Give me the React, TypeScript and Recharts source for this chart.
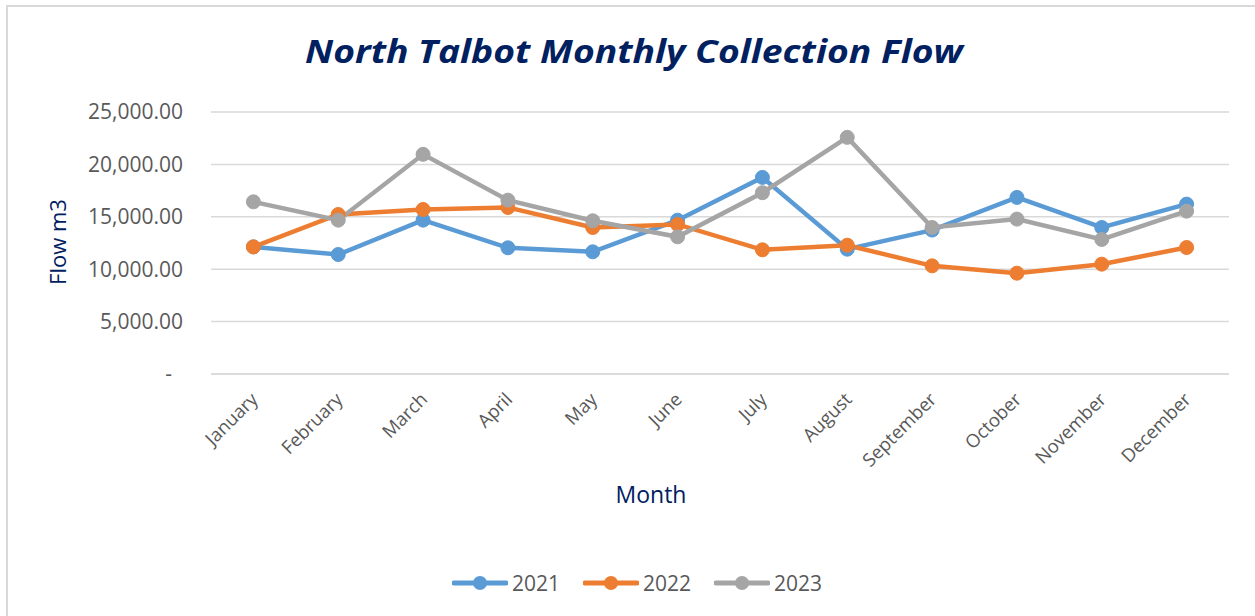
import { CartesianGrid, Legend, Line, LineChart, XAxis, YAxis } from 'recharts';

const months = [
  'January', 'February', 'March', 'April', 'May', 'June',
  'July', 'August', 'September', 'October', 'November', 'December',
];
const flow2021 = [12130, 11400, 14680, 12040, 11660, 14680, 18760, 11910, 13730, 16850, 13980, 16210];
const flow2022 = [12130, 15220, 15700, 15890, 13980, 14270, 11850, 12290, 10320, 9620, 10480, 12070];
const flow2023 = [16430, 14680, 20960, 16590, 14620, 13090, 17300, 22580, 13980, 14780, 12840, 15540];
const yTicks = [0, 5000, 10000, 15000, 20000, 25000];

const series = [
  { key: 'y2021', name: '2021', color: '#5b9bd5' },
  { key: 'y2022', name: '2022', color: '#ed7d31' },
  { key: 'y2023', name: '2023', color: '#a5a5a5' },
];

const data = months.map((month, i) => ({
  month,
  y2021: flow2021[i],
  y2022: flow2022[i],
  y2023: flow2023[i],
}));

const FONT = '"Open Sans", sans-serif';
const NAVY = '#002060';
const TICK = '#595959';

const fmt = (v: number) =>
  v.toLocaleString('en-US', { minimumFractionDigits: 2, maximumFractionDigits: 2 });

function YTick({ x, y, payload }: any) {
  const zero = payload.value === 0;
  return (
    <text
      x={x}
      y={y}
      dx={zero ? -11 : 0}
      dy="0.35em"
      textAnchor="end"
      fill={TICK}
      fontSize={21}
      fontFamily={FONT}
    >
      {zero ? '-' : fmt(payload.value)}
    </text>
  );
}

function XTick({ x, y, payload }: any) {
  const tx = x + 1;
  const ty = y + 22;
  return (
    <text
      x={tx}
      y={ty}
      dy="0.35em"
      textAnchor="end"
      transform={`rotate(-45 ${tx} ${ty})`}
      fill={TICK}
      fontSize={18.5}
      fontFamily={FONT}
    >
      {payload.value}
    </text>
  );
}

function LegendContent() {
  return (
    <div style={{ display: 'flex', paddingLeft: 452, fontFamily: FONT }}>
      {series.map((s) => (
        <div key={s.key} style={{ display: 'flex', alignItems: 'center', marginRight: 23 }}>
          <svg width={56} height={20}>
            <line x1={2} y1={10} x2={54} y2={10} stroke={s.color} strokeWidth={5} strokeLinecap="round" />
            <circle cx={28} cy={10} r={7} fill={s.color} />
          </svg>
          <span style={{ marginLeft: 4, fontSize: 21, color: TICK }}>{s.name}</span>
        </div>
      ))}
    </div>
  );
}

export default function App() {
  return (
    <div
      style={{
        position: 'fixed',
        left: 0,
        top: 0,
        width: 1255,
        height: 616,
        background: '#fff',
        overflow: 'hidden',
      }}
    >
      <div
        style={{
          position: 'absolute',
          left: 6,
          top: 5,
          width: 1270,
          height: 630,
          border: '2px solid #d9d9d9',
        }}
      />
      <svg style={{ position: 'absolute', left: 0, top: 0 }} width={1255} height={80}>
        <text
          x={305}
          y={63}
          textLength={658}
          lengthAdjust="spacingAndGlyphs"
          fill={NAVY}
          fontSize={32}
          fontWeight={700}
          fontStyle="italic"
          fontFamily={FONT}
        >
          North Talbot Monthly Collection Flow
        </text>
      </svg>
      <div
        style={{
          position: 'absolute',
          left: 57,
          top: 242,
          transform: 'translate(-50%, -50%) rotate(-90deg)',
          color: NAVY,
          fontSize: 22,
          fontFamily: FONT,
          whiteSpace: 'nowrap',
        }}
      >
        Flow m3
      </div>
      <div
        style={{
          position: 'absolute',
          left: 651,
          top: 494,
          transform: 'translate(-50%, -50%)',
          color: NAVY,
          fontSize: 23,
          fontFamily: FONT,
          whiteSpace: 'nowrap',
        }}
      >
        Month
      </div>
      <div style={{ position: 'absolute', left: 0, top: 0 }}>
        <LineChart
          width={1255}
          height={616}
          data={data}
          margin={{ top: 112, right: 26, bottom: 182, left: 0 }}
        >
          <CartesianGrid vertical={false} stroke="#d9d9d9" strokeWidth={1.5} />
          <XAxis
            dataKey="month"
            height={60}
            padding={{ left: 42.4, right: 42.4 }}
            axisLine={{ stroke: '#d9d9d9', strokeWidth: 1.5 }}
            tickLine={false}
            tickSize={0}
            tickMargin={0}
            interval={0}
            tick={<XTick />}
          />
          <YAxis
            width={211}
            domain={[0, 25000]}
            ticks={yTicks}
            axisLine={false}
            tickLine={false}
            tickSize={0}
            tickMargin={28}
            tick={<YTick />}
          />
          <Legend
            verticalAlign="middle"
            layout="horizontal"
            content={<LegendContent />}
            wrapperStyle={{ top: 569, left: 0, width: 1255, height: 22 }}
          />
          {series.map((s) => (
            <Line
              key={s.key}
              dataKey={s.key}
              name={s.name}
              stroke={s.color}
              strokeWidth={4.5}
              dot={{ r: 7, fill: s.color, stroke: s.color, strokeWidth: 1 }}
              activeDot={false}
              isAnimationActive={false}
            />
          ))}
        </LineChart>
      </div>
    </div>
  );
}
